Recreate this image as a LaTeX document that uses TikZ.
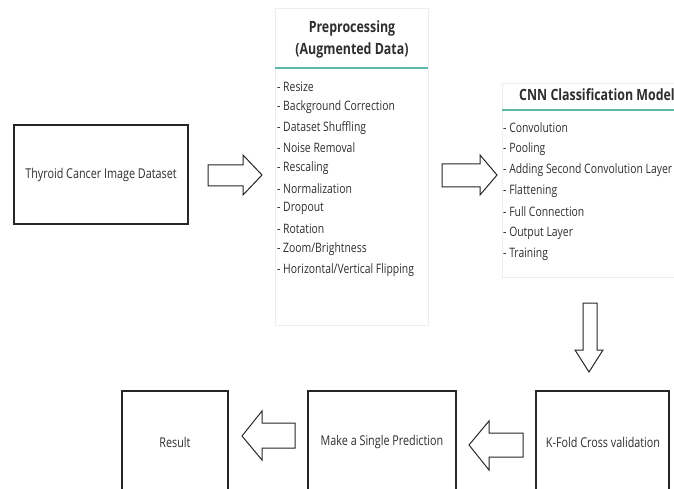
\documentclass[tikz,border=0pt]{standalone}
\usepackage{fontspec}
\setmainfont{Open Sans}[FakeStretch=0.8]
\usetikzlibrary{positioning}
\definecolor{txt}{HTML}{2E2E2E}
\definecolor{teal1}{HTML}{5DB8A9}
\definecolor{faint}{HTML}{EDEDED}
\begin{document}
\begin{tikzpicture}[x=1pt,y=-1pt,
  box/.style={draw=black!85,line width=1.2pt,fill=none},
  panel/.style={draw=faint,line width=0.6pt},
  blockarrow/.style={draw=black!85,line width=1pt,fill=white,line join=miter},
  boxtext/.style={text=txt,font=\fontsize{13.5}{15}\selectfont,inner sep=0pt},
  titletext/.style={text=txt,font=\bfseries\fontsize{15.5}{22}\selectfont,align=center,inner sep=0pt},
  item/.style={text=txt,font=\fontsize{13}{15}\selectfont,anchor=west,inner sep=0pt},
  rule/.style={draw=teal1,line width=2pt}]
\useasboundingbox (0,0) rectangle (674,489);
\begin{scope}
\clip (0,0) rectangle (674,489);
% panels
\draw[panel] (275,8) rectangle (428,325);
\draw[panel] (502,83) rectangle (690,277);
\draw[rule] (275,68) -- (428,68);
\draw[rule] (502,110) -- (690,110);
\node[titletext] (pretitle) at (352,39) {Preprocessing\\(Augmented Data)};
\node[titletext] (cnntitle) at (597,95) {CNN Classification Model};
\foreach \t [count=\i] in {Resize,Background Correction,Dataset Shuffling,Noise Removal,Rescaling,Normalization,Dropout,Rotation,Zoom/Brightness,Horizontal/Vertical Flipping}
  \node[item] (p\i) at (277,{87+20.3*(\i-1)}) {- \t};
\foreach \t [count=\i] in {Convolution,Pooling,Adding Second Convolution Layer,Flattening,Full Connection,Output Layer,Training}
  \node[item] (c\i) at (503,{128+21*(\i-1)}) {- \t};
% boxes
\draw[box] (14,125) rectangle (188,224);
\node[boxtext] (thy) at (101,175) {Thyroid Cancer Image Dataset};
\draw[box] (122,391) rectangle (228,510);
\node[boxtext] (res) at (175,442) {Result};
\draw[box] (308,391) rectangle (456,510);
\node[boxtext] (pred) at (382,442) {Make a Single Prediction};
\draw[box] (536,391) rectangle (669,510);
\node[boxtext] (kf) at (603,442) {K-Fold Cross validation};
% block arrows
\draw[blockarrow] (208,165) -- (243,165) -- (243,155) -- (262,175) -- (243,195) -- (243,186) -- (208,186) -- cycle;
\draw[blockarrow] (442,164) -- (480,164) -- (480,155) -- (497,175) -- (480,195) -- (480,187) -- (442,187) -- cycle;
\draw[blockarrow] (583,303) -- (597,303) -- (597,350) -- (603,350) -- (589,372) -- (575,350) -- (583,350) -- cycle;
\draw[blockarrow] (523,433) -- (489,433) -- (489,421) -- (469,445) -- (489,470) -- (489,457) -- (523,457) -- cycle;
\draw[blockarrow] (295,423) -- (262,423) -- (262,411) -- (242,436) -- (262,460) -- (262,448) -- (295,448) -- cycle;
\end{scope}
\end{tikzpicture}
\end{document}
